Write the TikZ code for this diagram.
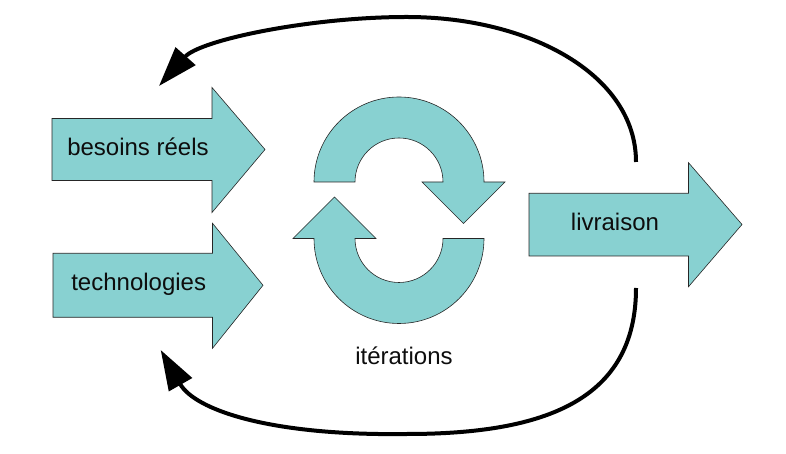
\documentclass[tikz,border=0pt]{standalone}
\usepackage{fontspec}
\setmainfont{Liberation Sans}
\usetikzlibrary{arrows.meta}
\definecolor{blockfill}{HTML}{88D1D1}
\begin{document}
\begin{tikzpicture}[x=1pt,y=1pt,
  blockshape/.style={fill=blockfill,draw=black!85,line width=0.6pt,line join=miter},
  lbl/.style={font=\fontsize{24}{28}\selectfont,text=black!95,anchor=base,inner sep=0pt},
  feedback/.style={line width=4pt,-{Triangle[length=40pt,width=26pt]}}]
\useasboundingbox (0,0) rectangle (786,454);

% input arrows
\draw[blockshape] (52,335.5) -- (212,335.5) -- (212,366.5) -- (265,304.5) -- (212,241.5) -- (212,273.5) -- (52,273.5) -- cycle;
\draw[blockshape] (53,200.7) -- (212.5,200.7) -- (212.5,230.7) -- (263,168.7) -- (212.5,105.7) -- (212.5,136.7) -- (53,136.7) -- cycle;
% output arrow
\draw[blockshape] (529,260.7) -- (688.5,260.7) -- (688.5,291.3) -- (742,229.5) -- (688.5,167.3) -- (688.5,198) -- (529,198) -- cycle;

% iteration cycle: upper half-ring turning clockwise
\draw[blockshape] (314,272) arc[start angle=180,end angle=0,radius=85pt]
  -- (505,272) -- (463.5,230.5) -- (422,272) -- (443,272)
  arc[start angle=0,end angle=180,radius=44pt] -- cycle;
% lower half-ring
\draw[blockshape] (484,215.5) arc[start angle=0,end angle=-180,radius=85pt]
  -- (293,215.5) -- (334.5,257) -- (376,215.5) -- (355,215.5)
  arc[start angle=180,end angle=360,radius=44pt] -- cycle;

% labels
\node[lbl] (besoins) at (138,298) {besoins réels};
\node[lbl] (techno) at (138.7,163) {technologies};
\node[lbl] (livraison) at (615,223) {livraison};
\node[lbl] (iter) at (404,89) {itérations};

% feedback loops
\coordinate (topStart) at (636,292);
\coordinate (topPeak) at (407,437);
\coordinate (topEnd) at (159,368);
\coordinate (botStart) at (636,166);
\coordinate (botPeak) at (407,20);
\coordinate (botEnd) at (160.7,104);

\draw[feedback] (topStart) .. controls (636,379) and (530,437) .. (topPeak)
  .. controls (310,437) and (200,414) .. (topEnd);
\draw[feedback] (botStart) .. controls (636,54) and (545,20) .. (botPeak)
  .. controls (270,18) and (195,44) .. (botEnd);
\end{tikzpicture}
\end{document}
